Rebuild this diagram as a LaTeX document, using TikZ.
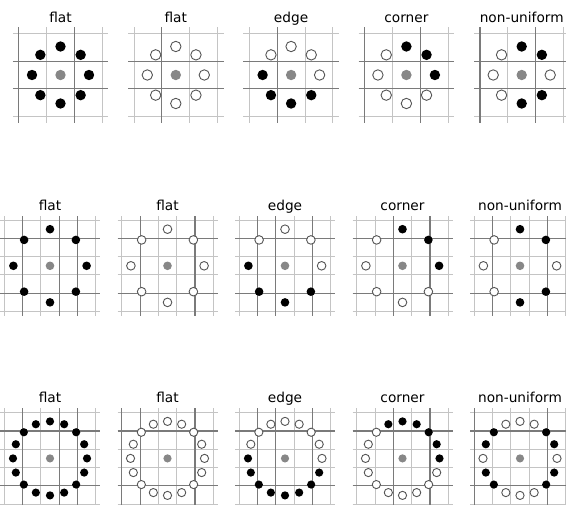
\documentclass[tikz,border=0pt]{standalone}
\usepackage{fontspec}
\setmainfont{DejaVu Sans}
\usepackage{xcolor}
\definecolor{gridlight}{RGB}{196,196,196}
\definecolor{griddark}{RGB}{122,122,122}
\definecolor{ringgray}{RGB}{85,85,85}
\definecolor{centergray}{RGB}{135,135,135}
\tikzset{
  gridthin/.style={draw=gridlight, line width=0.5pt},
  gridthick/.style={draw=griddark, line width=0.55pt},
  fulldot/.style={fill=black},
  opendot/.style={draw=ringgray, fill=white, line width=0.45pt},
  centerdot/.style={fill=centergray},
  paneltitle/.style={font=\fontsize{6.85}{8}\selectfont, anchor=base, inner sep=0pt},
}

\begin{document}
\begin{tikzpicture}[x=0.5pt, y=0.5pt]
\useasboundingbox (0,0) rectangle (566,504);
\clip (0,0) rectangle (566,504);

% top row: 3x3 cells, ring of 8
\foreach \ttl/\cx/\vd/\pat [count=\j] in {
  flat/60.5/{0,2}/{1,1,1,1,1,1,1,1},
  flat/175.8/{1}/{0,0,0,0,0,0,0,0},
  edge/291.1/{1}/{0,0,0,0,1,1,1,1},
  corner/406.4/{0,2}/{1,1,1,0,0,0,0,0},
  non-uniform/521.7/{0,2}/{0,1,1,0,0,0,1,1}%
}{
  \begin{scope}[shift={(\cx,429)}]
    \foreach \i in {0,...,3} {
      \draw[gridthin] ({(\i-1.5)*27.8},-47.7) -- ({(\i-1.5)*27.8},47.7);
      \draw[gridthin] (-47.7,{(\i-1.5)*27.8}) -- (47.7,{(\i-1.5)*27.8});
    }
    \foreach \i in \vd
      \draw[gridthick] ({(\i-1.5)*27.8},-47.7) -- ({(\i-1.5)*27.8},47.7);
    \foreach \i in {1,2}
      \draw[gridthick] (-47.7,{(\i-1.5)*27.8}) -- (47.7,{(\i-1.5)*27.8});
    \fill[centerdot] (0,0) circle (5.2);
    \foreach \s [count=\k from 0] in \pat {
      \ifnum\s=1 \fill[fulldot] ({\k*45}:28.5) circle (5.2);
      \else \draw[opendot] ({\k*45}:28.5) circle (5.2); \fi
    }
  \end{scope}
  \node[paneltitle] (top\j) at (\cx,481.3) {\ttl};
}

% middle row: 5x5 cells, ring of 8 at radius 2
\foreach \ttl/\cx/\vd/\pat [count=\j] in {
  flat/50/{1,3,4}/{1,1,1,1,1,1,1,1},
  flat/167.5/{1,4}/{0,0,0,0,0,0,0,0},
  edge/285/{1,2,4}/{0,0,0,0,1,1,1,1},
  corner/402.5/{2,4}/{1,1,1,0,0,0,0,0},
  non-uniform/520/{1,4}/{0,1,1,0,0,0,1,1}%
}{
  \begin{scope}[shift={(\cx,238.2)}]
    \foreach \i in {0,...,5} {
      \draw[gridthin] ({(\i-2.5)*18.3},-50) -- ({(\i-2.5)*18.3},50);
      \draw[gridthin] (-50,{(\i-2.5)*18.3}) -- (50,{(\i-2.5)*18.3});
    }
    \foreach \i in \vd
      \draw[gridthick] ({(\i-2.5)*18.3},-50) -- ({(\i-2.5)*18.3},50);
    \foreach \i in {1,4}
      \draw[gridthick] (-50,{(\i-2.5)*18.3}) -- (50,{(\i-2.5)*18.3});
    \fill[centerdot] (0,0) circle (4.3);
    \foreach \s [count=\k from 0] in \pat {
      \ifnum\s=1 \fill[fulldot] ({\k*45}:36.6) circle (4.3);
      \else \draw[opendot] ({\k*45}:36.6) circle (4.3); \fi
    }
  \end{scope}
  \node[paneltitle] (mid\j) at (\cx,293.3) {\ttl};
}

% bottom row: 5x5 cells, ring of 16
\foreach \ttl/\cx/\vd/\pat [count=\j] in {
  flat/50/{1,3,4}/{1,1,1,1,1,1,1,1,1,1,1,1,1,1,1,1},
  flat/167.5/{0,1,4}/{0,0,0,0,0,0,0,0,0,0,0,0,0,0,0,0},
  edge/285/{1,2,4}/{0,0,0,0,0,0,0,0,1,1,1,1,1,1,1,1},
  corner/402.5/{2,4}/{1,1,1,1,1,1,0,0,0,0,0,0,0,0,0,0},
  non-uniform/520/{0,4}/{0,1,1,0,0,0,1,1,0,1,1,0,0,0,1,1}%
}{
  \begin{scope}[shift={(\cx,45.6)}]
    \foreach \i in {0,...,5} {
      \draw[gridthin] ({(\i-2.5)*18.3},-50) -- ({(\i-2.5)*18.3},50);
      \draw[gridthin] (-50,{(\i-2.5)*18.3}) -- (50,{(\i-2.5)*18.3});
    }
    \foreach \i in \vd
      \draw[gridthick] ({(\i-2.5)*18.3},-50) -- ({(\i-2.5)*18.3},50);
    \foreach \i in {1,4}
      \draw[gridthick] (-50,{(\i-2.5)*18.3}) -- (50,{(\i-2.5)*18.3});
    \fill[centerdot] (0,0) circle (4.1);
    \foreach \s [count=\k from 0] in \pat {
      \ifnum\s=1 \fill[fulldot] ({\k*22.5}:37) circle (4.1);
      \else \draw[opendot] ({\k*22.5}:37) circle (4.1); \fi
    }
  \end{scope}
  \node[paneltitle] (bot\j) at (\cx,101.3) {\ttl};
}
\end{tikzpicture}
\end{document}
